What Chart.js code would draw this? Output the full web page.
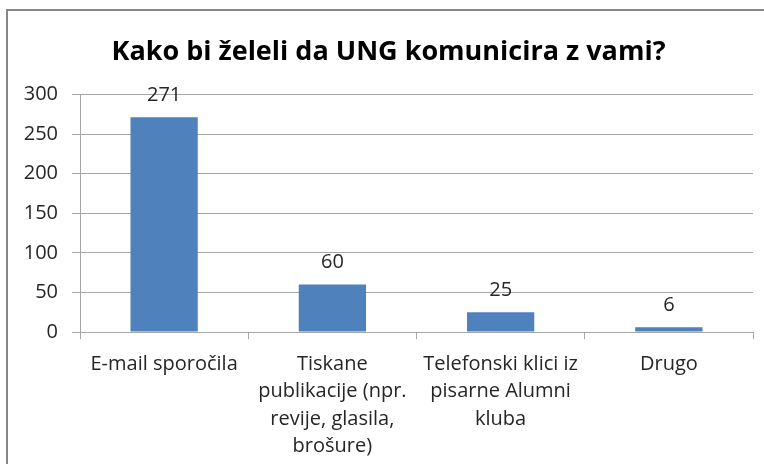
<!DOCTYPE html>
<html>
<head>
<meta charset="utf-8">
<script src="https://cdn.jsdelivr.net/npm/chart.js@4"></script>
<style>
html,body{margin:0;padding:0;background:#fff;}
#wrap{position:relative;width:764px;height:464px;}
#frame{position:absolute;left:6px;top:9px;width:800px;height:500px;border-left:2px solid #868686;border-top:2px solid #868686;pointer-events:none;}
canvas{position:absolute;left:0;top:0;}
</style>
</head>
<body>
<div id="wrap">
<canvas id="c" width="764" height="464"></canvas>
<div id="frame"></div>
</div>
<script>
const titleText = "Kako bi želeli da UNG komunicira z vami?";
const categories = [
  ["E-mail sporočila"],
  ["Tiskane", "publikacije (npr.", "revije, glasila,", "brošure)"],
  ["Telefonski klici iz", "pisarne Alumni", "kluba"],
  ["Drugo"]
];
const values = [271, 60, 25, 6];
const yTicks = [0, 50, 100, 150, 200, 250, 300];

const FONT = "'Open Sans', sans-serif";

const labelPlugin = {
  id: 'valueLabels',
  afterDatasetsDraw(chart) {
    const ctx = chart.ctx;
    const meta = chart.getDatasetMeta(0);
    ctx.save();
    ctx.font = "20px " + FONT;
    ctx.fillStyle = "#262626";
    ctx.textAlign = "center";
    ctx.textBaseline = "middle";
    meta.data.forEach((bar, i) => {
      ctx.fillText(String(values[i]), bar.x, bar.y - 22);
    });
    ctx.restore();
  }
};

new Chart(document.getElementById('c'), {
  type: 'bar',
  data: {
    labels: categories,
    datasets: [{
      data: values,
      backgroundColor: '#4F81BD',
      borderWidth: 0,
      categoryPercentage: 1.0,
      barPercentage: 0.4
    }]
  },
  options: {
    responsive: false,
    animation: false,
    layout: { padding: { left: 24, right: 11, top: 0, bottom: 0 } },
    plugins: {
      legend: { display: false },
      tooltip: { enabled: false },
      title: {
        display: true,
        text: titleText,
        color: '#000',
        font: { family: FONT, size: 27, weight: 'bold' },
        padding: { top: 36, bottom: 26 }
      }
    },
    scales: {
      y: {
        min: 0, max: 300,
        afterBuildTicks(scale) { scale.ticks = yTicks.map(v => ({ value: v })); },
        afterFit(scale) { scale.width = 56; },
        ticks: {
          color: '#262626',
          font: { family: FONT, size: 20 },
          padding: 14
        },
        grid: { color: '#a6a6a6', tickLength: 8, lineWidth: 1 },
        border: { color: '#a6a6a6' }
      },
      x: {
        afterFit(scale) { scale.height = 132; },
        ticks: {
          color: '#262626',
          font: { family: FONT, size: 20, lineHeight: 1.38 },
          padding: 11,
          maxRotation: 0,
          autoSkip: false
        },
        grid: { drawOnChartArea: false, color: '#a6a6a6', tickLength: 7, offset: true },
        border: { color: '#a6a6a6' }
      }
    }
  },
  plugins: [labelPlugin]
});
</script>
</body>
</html>
